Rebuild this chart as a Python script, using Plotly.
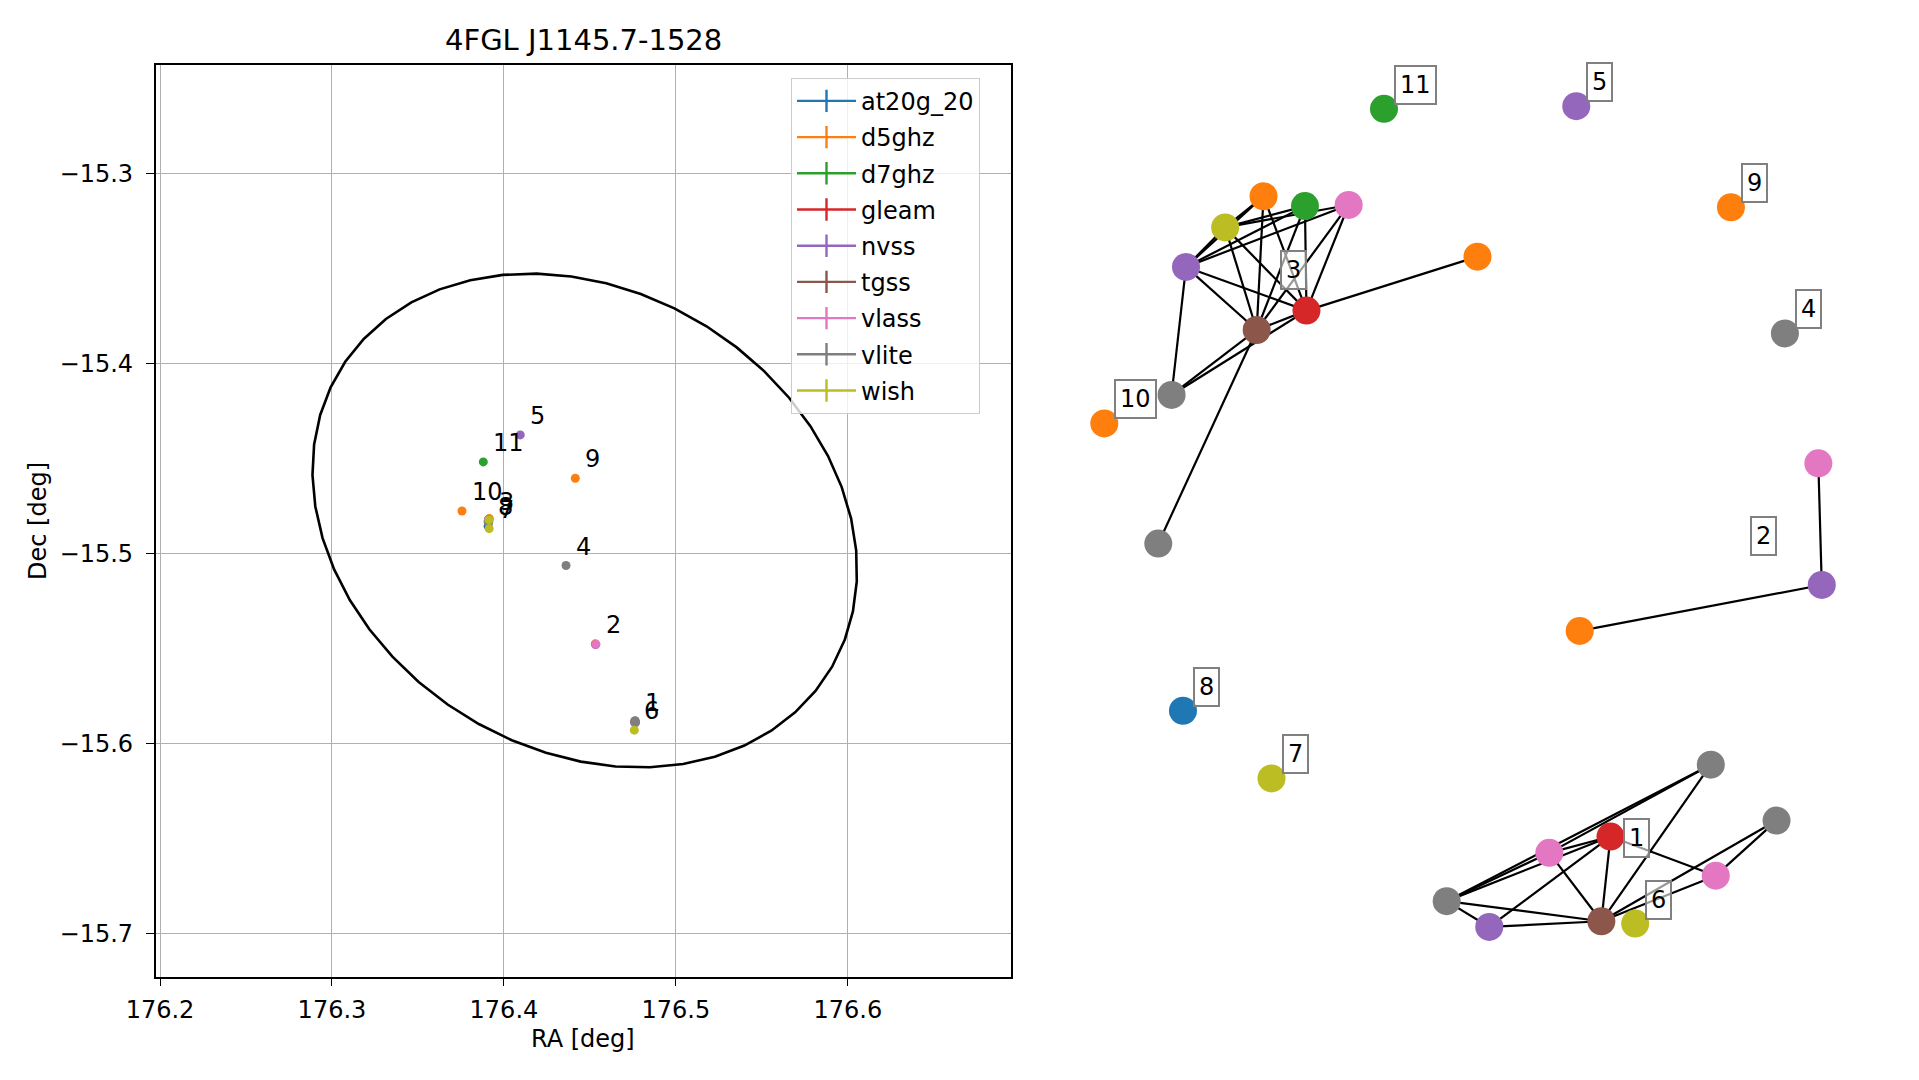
import numpy as np
import plotly.graph_objects as go

# ---------------- data ----------------
TITLE = "4FGL J1145.7-1528"
CATALOGS = ["at20g_20", "d5ghz", "d7ghz", "gleam", "nvss", "tgss", "vlass", "vlite", "wish"]
CAT_COLORS = ["#1f77b4", "#ff7f0e", "#2ca02c", "#d62728", "#9467bd",
              "#8c564b", "#e377c2", "#7f7f7f", "#bcbd22"]

# one entry per matched source (graph node)
NODE_CATALOG = ["vlite", "vlite", "gleam", "vlass", "vlass", "vlite", "nvss", "tgss",
                "vlass", "nvss", "d5ghz",
                "d5ghz", "d7ghz", "vlass", "wish", "nvss", "gleam", "tgss", "d5ghz", "vlite", "vlite",
                "vlite", "nvss", "wish", "wish", "at20g_20", "d5ghz", "d5ghz", "d7ghz"]
NODE_GROUP = [1, 1, 1, 1, 1, 1, 1, 1,
              2, 2, 2,
              3, 3, 3, 3, 3, 3, 3, 3, 3, 3,
              4, 5, 6, 7, 8, 9, 10, 11]
NODE_RA = [176.4763, 176.4765, 176.4761, 176.4762, 176.4764, 176.4760, 176.4761, 176.4762,
           176.4535, 176.4533, 176.4531,
           176.3912, 176.3910, 176.3911, 176.3913, 176.3909, 176.3912, 176.3910, 176.3915, 176.3908, 176.3910,
           176.4361, 176.4095, 176.4758, 176.3914, 176.3908, 176.4415, 176.3756, 176.3880]
NODE_DEC = [-15.5878, -15.5886, -15.5884, -15.5880, -15.5889, -15.5882, -15.5887, -15.5890,
            -15.5476, -15.5478, -15.5474,
            -15.4818, -15.4821, -15.4824, -15.4822, -15.4827, -15.4830, -15.4828, -15.4815, -15.4832, -15.4835,
            -15.5062, -15.4375, -15.5928, -15.4868, -15.4855, -15.4603, -15.4775, -15.4517]
# graph layout positions (spring-layout units)
NODE_LX = [0.660, 0.833, 0.396, 0.235, 0.673, -0.035, 0.077, 0.372,
           0.943, 0.952, 0.315,
           -0.517, -0.408, -0.293, -0.618, -0.721, -0.404, -0.535, 0.046, -0.759, -0.794,
           0.855, 0.306, 0.461, -0.496, -0.729, 0.713, -0.936, -0.200]
NODE_LY = [-0.644, -0.791, -0.833, -0.876, -0.936, -1.003, -1.071, -1.056,
           0.149, -0.171, -0.292,
           0.852, 0.826, 0.829, 0.770, 0.666, 0.551, 0.500, 0.693, 0.329, -0.062,
           0.491, 1.089, -1.062, -0.680, -0.502, 0.823, 0.254, 1.082]
EDGES = [(5, 3), (5, 2), (5, 0), (3, 2), (3, 0), (0, 7), (2, 4), (2, 7), (6, 2), (5, 7),
         (6, 7), (5, 6), (3, 7), (7, 1), (7, 4), (4, 1),
         (8, 9), (9, 10),
         (11, 14), (11, 15), (11, 17), (11, 16), (12, 14), (12, 15), (12, 17), (12, 16),
         (13, 14), (13, 15), (13, 17), (13, 16), (14, 15), (14, 17), (14, 16), (15, 17),
         (15, 16), (17, 16), (15, 19), (17, 19), (16, 19), (16, 18), (17, 20)]

# Fermi 95% error ellipse
ELL_RA, ELL_DEC = 176.447, -15.4825
ELL_A, ELL_B, ELL_ANGLE = 0.1637, 0.1231, -22.6

X_TICKS = [176.2, 176.3, 176.4, 176.5, 176.6]
Y_TICKS = [-15.3, -15.4, -15.5, -15.6, -15.7]

# ---------------- figure ----------------
W, H = 1919, 1080
FONT = "DejaVu Sans"
fig = go.Figure()

# ellipse
t = np.linspace(0, 2 * np.pi, 50)
ang = np.deg2rad(ELL_ANGLE)
ex = ELL_RA + ELL_A * np.cos(t) * np.cos(ang) - ELL_B * np.sin(t) * np.sin(ang)
ey = ELL_DEC + ELL_A * np.cos(t) * np.sin(ang) + ELL_B * np.sin(t) * np.cos(ang)
fig.add_trace(go.Scatter(x=ex, y=ey, mode="lines", line=dict(color="black", width=2.6),
                         showlegend=False, hoverinfo="skip", xaxis="x", yaxis="y"))

ra = np.array(NODE_RA)
dec = np.array(NODE_DEC)
cats = np.array(NODE_CATALOG)
groups = np.array(NODE_GROUP)
lx = np.array(NODE_LX)
ly = np.array(NODE_LY)
color_of = dict(zip(CATALOGS, CAT_COLORS))

for cat, col in zip(CATALOGS, CAT_COLORS):
    m = cats == cat
    fig.add_trace(go.Scatter(x=ra[m], y=dec[m], mode="markers",
                             marker=dict(color=col, size=9), showlegend=False,
                             xaxis="x", yaxis="y"))
    # legend entry mimicking an errorbar cross
    fig.add_trace(go.Scatter(x=[None], y=[None], mode="lines+markers", name=cat,
                             line=dict(color=col, width=2.4),
                             marker=dict(symbol="line-ns-open", size=20, color=col,
                                         line=dict(color=col, width=2.4)),
                             xaxis="x", yaxis="y", legendgroup=cat))

annotations = []
for g in sorted(set(NODE_GROUP)):
    m = groups == g
    annotations.append(dict(x=ra[m].mean(), y=dec[m].mean(), xref="x", yref="y",
                            text=str(g), showarrow=False, xanchor="left", yanchor="bottom",
                            xshift=8, yshift=3, font=dict(size=24, color="black", family=FONT)))

# graph edges
exs, eys = [], []
for a, b in EDGES:
    exs += [lx[a], lx[b], None]
    eys += [ly[a], ly[b], None]
fig.add_trace(go.Scatter(x=exs, y=eys, mode="lines", line=dict(color="black", width=2.2),
                         showlegend=False, hoverinfo="skip", xaxis="x2", yaxis="y2"))
fig.add_trace(go.Scatter(x=lx, y=ly, mode="markers",
                         marker=dict(color=[color_of[c] for c in NODE_CATALOG], size=28),
                         showlegend=False, xaxis="x2", yaxis="y2"))
for g in sorted(set(NODE_GROUP)):
    m = groups == g
    annotations.append(dict(x=lx[m].mean(), y=ly[m].mean(), xref="x2", yref="y2",
                            text=str(g), showarrow=False, xanchor="left", yanchor="middle",
                            xshift=10, yshift=24, bgcolor="rgba(255,255,255,0.6)",
                            bordercolor="#808080", borderwidth=2, borderpad=4,
                            font=dict(size=24, color="black", family=FONT)))

# titles
annotations += [
    dict(x=583.3 / W, y=1 - 40 / H, xref="paper", yref="paper", text=TITLE, showarrow=False,
         xanchor="center", yanchor="middle", font=dict(size=29, color="black", family=FONT)),
    dict(x=583.3 / W, y=1 - 1038.6 / H, xref="paper", yref="paper", text="RA [deg]",
         showarrow=False, xanchor="center", yanchor="middle",
         font=dict(size=24, color="black", family=FONT)),
    dict(x=38.6 / W, y=1 - 521.4 / H, xref="paper", yref="paper", text="Dec [deg]",
         showarrow=False, textangle=-90, xanchor="center", yanchor="middle",
         font=dict(size=24, color="black", family=FONT)),
]

ax_common = dict(showgrid=True, gridcolor="#b0b0b0", gridwidth=1.3, zeroline=False,
                 showline=True, linecolor="black", linewidth=1.5, mirror=True,
                 ticks="outside", ticklen=8, tickwidth=1.3, tickcolor="black",
                 automargin=False,
                 tickfont=dict(size=24, color="black", family=FONT))

fig.update_layout(
    width=W, height=H, autosize=False,
    margin=dict(l=0, r=0, t=0, b=0, pad=0),
    paper_bgcolor="white", plot_bgcolor="white",
    font=dict(family=FONT, color="black"),
    xaxis=dict(domain=[155.7 / W, 1010.9 / W], range=[176.1975, 176.6948],
               tickvals=X_TICKS, ticktext=[f"{v:.1f}" for v in X_TICKS], anchor="y",
               ticklabelstandoff=3, **ax_common),
    yaxis=dict(domain=[1 - 976.7 / H, 1 - 65.4 / H], range=[-15.7225, -15.2431],
               tickvals=Y_TICKS, ticktext=[f"\u2212{abs(v):.1f}" for v in Y_TICKS], anchor="x",
               ticklabelstandoff=8, **ax_common),
    xaxis2=dict(domain=[1017.1 / W, 1.0], range=[-1.1655, 1.2079], visible=False,
                anchor="y2", automargin=False),
    yaxis2=dict(domain=[0.0, 1.0], range=[-1.4737, 1.3684], visible=False,
                anchor="x2", automargin=False),
    legend=dict(x=791 / W, y=1 - 77.8 / H, xanchor="left", yanchor="top",
                bgcolor="rgba(255,255,255,0.8)", bordercolor="#cccccc", borderwidth=1,
                itemwidth=59,
                font=dict(size=24, color="black", family=FONT), tracegroupgap=2),
    annotations=annotations,
    showlegend=True,
)

fig.write_html("out.html", config={"displayModeBar": False},
               post_script="document.body.style.margin='0px';document.body.style.overflow='hidden';")
